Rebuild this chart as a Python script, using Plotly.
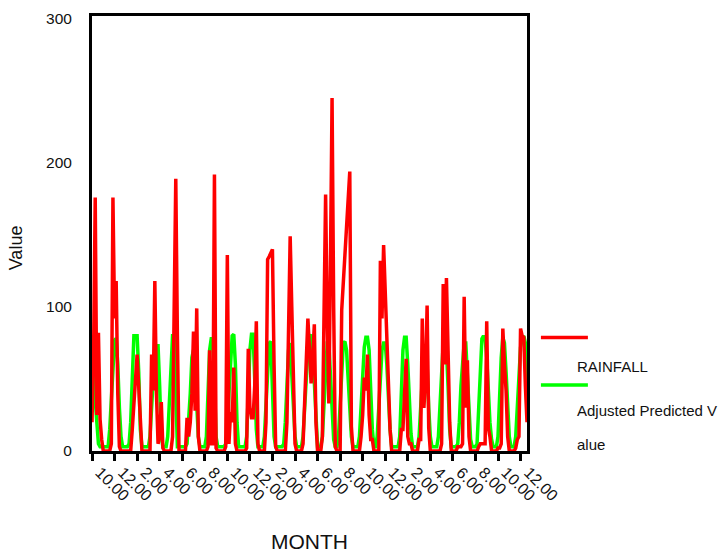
import plotly.graph_objects as go

# Rainfall (observed) per case, in case order (12 cases per row)
rainfall = [
    20, 70, 176, 25, 82, 22, 8, 0, 0, 0, 0, 0,
    5, 176, 92, 118, 40, 3, 0, 0, 0, 0, 0, 0,
    0, 15, 35, 52, 67, 45, 15, 0, 0, 0, 0, 0,
    0, 67, 42, 118, 40, 5, 10, 34, 2, 0, 0, 0,
    0, 0, 10, 100, 189, 80, 0, 0, 0, 0, 0, 23,
    10, 20, 40, 83, 28, 99, 10, 0, 0, 0, 0, 0,
    3, 70, 5, 5, 192, 2, 0, 0, 0, 0, 0, 3,
    136, 5, 27, 20, 58, 5, 0, 0, 0, 0, 0, 0,
    2, 71, 30, 23, 23, 45, 90, 5, 0, 0, 0, 0,
    20, 133, 135, 137, 140, 60, 3, 0, 0, 0, 0, 0,
    0, 20, 90, 149, 100, 50, 5, 0, 0, 0, 0, 5,
    35, 65, 92, 70, 47, 65, 88, 20, 0, 0, 0, 10,
    80, 178, 90, 33, 130, 245, 100, 3, 0, 0, 0, 98,
    118, 137, 156, 175, 194, 17, 0, 0, 0, 0, 0, 10,
    25, 51, 42, 67, 25, 8, 8, 0, 0, 0, 0, 132,
    92, 143, 110, 75, 45, 15, 0, 0, 0, 0, 0, 0,
    15, 15, 40, 64, 10, 5, 5, 0, 0, 0, 0, 8,
    8, 92, 30, 50, 101, 16, 0, 0, 0, 0, 0, 0,
    0, 5, 116, 60, 120, 70, 20, 0, 0, 0, 0, 3,
    3, 3, 5, 107, 30, 63, 10, 0, 0, 0, 0, 0,
    3, 5, 5, 5, 5, 90, 16, 10, 0, 0, 0, 0,
    2, 2, 5, 85, 60, 42, 10, 0, 0, 0, 0, 2,
    8, 10, 85, 80, 79, 45, 20,
]

# Adjusted predicted value per case
predicted = [
    75, 60, 35, 15, 5, 3, 3, 3, 3, 3, 3, 15,
    40, 65, 77, 78, 60, 30, 10, 3, 3, 3, 3, 5,
    20, 50, 80, 80, 80, 55, 15, 3, 3, 3, 3, 3,
    10, 30, 55, 70, 73, 73, 45, 10, 3, 3, 3, 10,
    35, 65, 80, 80, 40, 3, 3, 3, 3, 3, 3, 5,
    20, 40, 65, 70, 55, 30, 10, 3, 3, 3, 3, 10,
    40, 70, 78, 78, 50, 10, 3, 3, 3, 3, 3, 5,
    15, 40, 65, 80, 81, 60, 20, 3, 3, 3, 3, 3,
    10, 40, 70, 81, 81, 50, 15, 3, 3, 3, 3, 10,
    35, 60, 75, 76, 50, 10, 3, 3, 3, 3, 3, 5,
    20, 45, 70, 75, 55, 30, 10, 3, 3, 3, 3, 10,
    30, 55, 70, 78, 81, 70, 50, 20, 3, 3, 3, 10,
    35, 60, 75, 75, 55, 25, 8, 3, 3, 10, 35, 60,
    75, 76, 70, 50, 30, 10, 3, 3, 3, 3, 10, 30,
    55, 72, 79, 79, 70, 40, 15, 3, 3, 10, 30, 55,
    70, 75, 75, 60, 35, 15, 3, 3, 3, 3, 3, 10,
    40, 70, 79, 79, 60, 35, 12, 3, 3, 3, 3, 10,
    30, 55, 70, 72, 60, 30, 10, 3, 3, 3, 3, 10,
    35, 60, 75, 78, 70, 45, 15, 3, 3, 3, 3, 5,
    20, 45, 65, 75, 75, 55, 25, 8, 3, 3, 3, 5,
    30, 60, 78, 80, 78, 65, 40, 20, 8, 3, 3, 3,
    10, 40, 65, 79, 75, 55, 30, 10, 3, 3, 3, 10,
    30, 55, 72, 78, 80, 75, 25,
]

month_tick_labels = ["10.00", "12.00", "2.00", "4.00", "6.00", "8.00",
                     "10.00", "12.00", "2.00", "4.00", "6.00", "8.00",
                     "10.00", "12.00", "2.00", "4.00", "6.00", "8.00",
                     "10.00", "12.00"]
y_tick_values = [0, 100, 200, 300]
# legend labels as wrapped in the original (one list of text lines per series)
legend_lines = [["RAINFALL"], ["Adjusted Predicted V", "alue"]]

cases = list(range(1, len(rainfall) + 1))
tick_positions = [cases[i * 14] for i in range(len(month_tick_labels))]

FONT = "Liberation Sans, Arial, sans-serif"
TXT = "#111111"
RED = "#FF0000"
GREEN = "#00FF00"

fig = go.Figure()
fig.add_trace(go.Scatter(x=cases, y=predicted, mode="lines",
                         line=dict(color=GREEN, width=3.5),
                         name="Adjusted Predicted Value", showlegend=False))
fig.add_trace(go.Scatter(x=cases, y=rainfall, mode="lines",
                         line=dict(color=RED, width=3.5),
                         name="RAINFALL", showlegend=False))

fig.update_layout(
    width=728, height=559,
    margin=dict(l=92, r=201, t=10, b=108),
    paper_bgcolor="white", plot_bgcolor="white",
    font=dict(family=FONT, size=15.5, color=TXT),
    showlegend=False,
)
fig.update_xaxes(
    range=[1, len(rainfall)],
    tickmode="array", tickvals=tick_positions, ticktext=month_tick_labels,
    tickangle=45, ticks="outside", ticklen=7, tickwidth=2.5, tickcolor="black",
    ticklabelshift=8, ticklabelstandoff=-4,
    showline=True, linecolor="black", linewidth=3, mirror=True,
    showgrid=False, zeroline=False,
    tickfont=dict(family=FONT, size=16, color=TXT),
)
fig.update_yaxes(
    range=[0, 302],
    tickmode="array", tickvals=y_tick_values,
    ticks="", ticklabelstandoff=14,
    showline=True, linecolor="black", linewidth=3, mirror=True,
    showgrid=False, zeroline=False,
    tickfont=dict(family=FONT, size=15.5, color=TXT),
)

# Axis titles
fig.add_annotation(text="MONTH", xref="paper", yref="paper", x=0.501, y=-0.2086,
                   showarrow=False, font=dict(family=FONT, size=21, color=TXT),
                   xanchor="center", yanchor="middle")
fig.add_annotation(text="Value", xref="paper", yref="paper", x=-0.176, y=0.467,
                   showarrow=False, textangle=-90,
                   font=dict(family=FONT, size=18, color=TXT),
                   xanchor="center", yanchor="middle")

# Manual legend (line sample above each label)
legend_colors = [RED, GREEN]
legend_line_y = [0.2608, 0.1519]
legend_text_y = [[0.195], [0.093, 0.0159]]
for lines, col, ly, tys in zip(legend_lines, legend_colors, legend_line_y, legend_text_y):
    fig.add_shape(type="line", xref="paper", yref="paper",
                  x0=1.032, x1=1.140, y0=ly, y1=ly,
                  line=dict(color=col, width=3.5))
    for txt, ty in zip(lines, tys):
        fig.add_annotation(text=txt, xref="paper", yref="paper", x=1.111, y=ty,
                           showarrow=False, align="left", xanchor="left", yanchor="middle",
                           font=dict(family=FONT, size=15, color=TXT))

fig.write_html("out.html")
